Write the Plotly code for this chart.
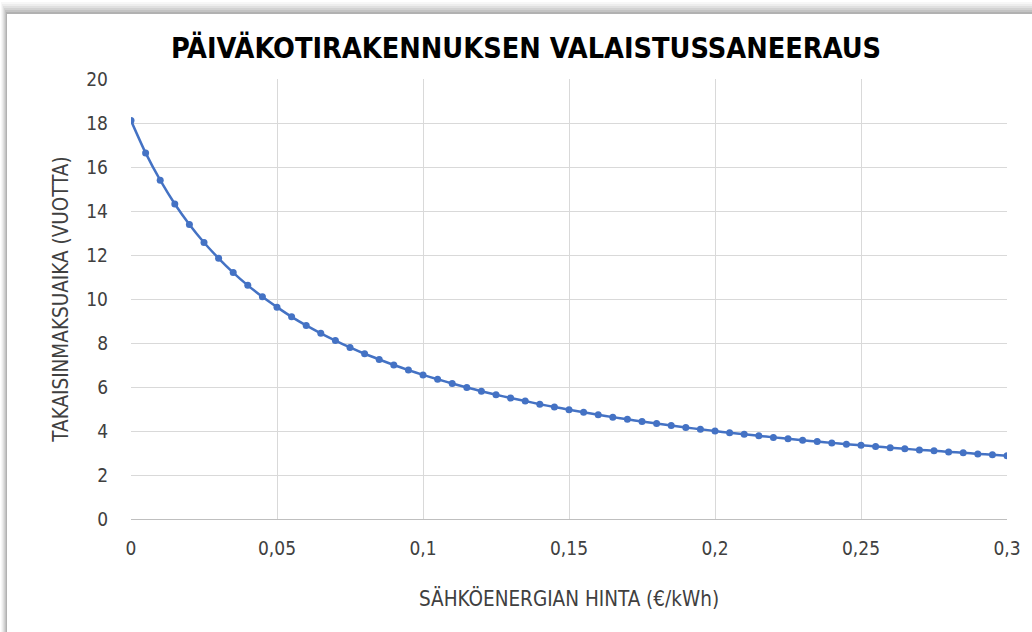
import plotly.graph_objects as go

# Electricity price (EUR/kWh) and payback time (years)
price = [
    0, 0.005, 0.01, 0.015, 0.02, 0.025, 0.03, 0.035, 0.04, 0.045,
    0.05, 0.055, 0.06, 0.065, 0.07, 0.075, 0.08, 0.085, 0.09, 0.095,
    0.1, 0.105, 0.11, 0.115, 0.12, 0.125, 0.13, 0.135, 0.14, 0.145,
    0.15, 0.155, 0.16, 0.165, 0.17, 0.175, 0.18, 0.185, 0.19, 0.195,
    0.2, 0.205, 0.21, 0.215, 0.22, 0.225, 0.23, 0.235, 0.24, 0.245,
    0.25, 0.255, 0.26, 0.265, 0.27, 0.275, 0.28, 0.285, 0.29, 0.295,
    0.3,
]
payback = [
    18.11, 16.64, 15.40, 14.32, 13.39, 12.57, 11.85, 11.20, 10.62, 10.10,
    9.63, 9.19, 8.80, 8.44, 8.11, 7.80, 7.51, 7.25, 7.00, 6.77,
    6.55, 6.35, 6.16, 5.98, 5.81, 5.65, 5.50, 5.36, 5.22, 5.09,
    4.97, 4.85, 4.74, 4.63, 4.53, 4.43, 4.34, 4.25, 4.16, 4.08,
    4.00, 3.92, 3.85, 3.78, 3.71, 3.65, 3.58, 3.52, 3.46, 3.40,
    3.35, 3.30, 3.24, 3.19, 3.14, 3.10, 3.05, 3.01, 2.96, 2.92,
    2.88,
]
x_ticks = [0, 0.05, 0.1, 0.15, 0.2, 0.25, 0.3]
x_tick_labels = ["0", "0,05", "0,1", "0,15", "0,2", "0,25", "0,3"]

LINE_BLUE = "#4472C4"
GRID = "#d9d9d9"
TEXT = "#404040"
NARROW = "Liberation Sans Narrow, DejaVu Sans Condensed, Arial Narrow, sans-serif"

W, H = 1032, 632
L, R, T, B = 131, 25, 79, 113
pw, ph = W - L - R, H - T - B


def px_to_paper(x, y):
    return (x - L) / pw, (H - B - y) / ph


fig = go.Figure(
    go.Scatter(
        x=price,
        y=payback,
        mode="lines+markers",
        line=dict(color=LINE_BLUE, width=2.5, shape="spline", smoothing=0.6),
        marker=dict(color=LINE_BLUE, size=7),
        hovertemplate="%{x}: %{y:.2f}<extra></extra>",
    )
)

# card with a soft drop shadow (top and left edges)
shapes = []
for i, alpha in enumerate([0.03, 0.04, 0.05, 0.06, 0.07, 0.09]):
    x0, y0 = px_to_paper(7 - (6 - i), 14 - 2 * (6 - i))
    x1, y1 = px_to_paper(W + 20, H + 20)
    shapes.append(dict(type="rect", xref="paper", yref="paper", x0=x0, y0=y0,
                       x1=x1, y1=y1, fillcolor=f"rgba(0,0,0,{alpha})",
                       line=dict(width=0), layer="below"))
x0, y0 = px_to_paper(7, 14)
x1, y1 = px_to_paper(W + 20, H + 20)
shapes.append(dict(type="rect", xref="paper", yref="paper", x0=x0, y0=y0,
                   x1=x1, y1=y1, fillcolor="white", line=dict(width=0),
                   layer="below"))

fig.update_layout(
    width=W,
    height=H,
    margin=dict(l=L, r=R, t=T, b=B),
    paper_bgcolor="white",
    plot_bgcolor="white",
    showlegend=False,
    shapes=shapes,
    title=dict(
        text="<b>PÄIVÄKOTIRAKENNUKSEN VALAISTUSSANEERAUS</b>",
        xref="container",
        x=526 / W,
        xanchor="center",
        y=1 - 48 / H,
        yanchor="middle",
        font=dict(family=NARROW, size=28.6, color="black"),
    ),
    font=dict(family=NARROW, color=TEXT),
    xaxis=dict(
        range=[0, 0.3],
        tickvals=x_ticks,
        ticktext=x_tick_labels,
        showgrid=True,
        gridcolor=GRID,
        zeroline=False,
        showline=True,
        linecolor="#bfbfbf",
        ticks="",
        ticklabelstandoff=12,
        tickfont=dict(family=NARROW, size=19, color=TEXT),
        title=dict(text="SÄHKÖENERGIAN HINTA (€/kWh)", standoff=33,
                   font=dict(family=NARROW, size=20.5, color=TEXT)),
    ),
    yaxis=dict(
        range=[0, 20],
        dtick=2,
        showgrid=True,
        gridcolor=GRID,
        zeroline=False,
        showline=False,
        ticks="",
        ticklabelstandoff=22,
        tickfont=dict(family=NARROW, size=19, color=TEXT),
        title=dict(text="TAKAISINMAKSUAIKA (VUOTTA)", standoff=12,
                   font=dict(family=NARROW, size=20.5, color=TEXT)),
    ),
)

# the page body has a default 8px margin; drop it so the figure fills the window
fig.write_html(
    "out.html",
    config={"displayModeBar": False},
    post_script="document.body.style.margin='0';",
)
